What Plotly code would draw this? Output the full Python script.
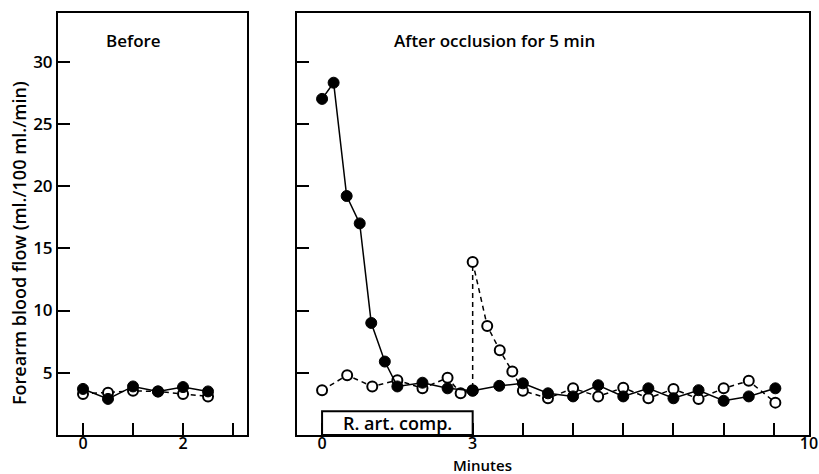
import plotly.graph_objects as go

# ---- data ----
before_x = [0, 0.5, 1.0, 1.5, 2.0, 2.5]
before_filled = [3.7, 2.9, 3.9, 3.5, 3.85, 3.5]
before_open = [3.3, 3.4, 3.55, 3.5, 3.3, 3.1]

after_filled_x = [0, 0.23, 0.49, 0.75, 0.98, 1.25, 1.5, 2.0, 2.5, 3.0, 3.53, 4.0,
                  4.5, 5.0, 5.5, 6.0, 6.5, 7.0, 7.5, 8.0, 8.5, 9.03]
after_filled = [27.0, 28.3, 19.2, 17.0, 9.0, 5.9, 3.9, 4.2, 3.75, 3.55, 3.95, 4.15,
                3.35, 3.1, 4.0, 3.1, 3.75, 2.95, 3.6, 2.75, 3.1, 3.75]

after_open_x = [0, 0.5, 1.0, 1.5, 2.0, 2.5, 2.76, 3.0, 3.0, 3.29, 3.54, 3.79, 4.0,
                4.5, 5.0, 5.5, 6.0, 6.5, 7.0, 7.5, 8.0, 8.5, 9.03]
after_open = [3.6, 4.8, 3.9, 4.4, 3.75, 4.6, 3.35, 3.6, 13.9, 8.76, 6.8, 5.1, 3.55,
              2.95, 3.75, 3.1, 3.8, 2.95, 3.7, 2.9, 3.75, 4.35, 2.6]

y_ticks = [5, 10, 15, 20, 25, 30]
left_xticks = [0, 1, 2, 3]
left_xlabels = ["0", "", "2", ""]
right_xticks = [0, 3, 4, 5, 6, 7, 8, 9, 9.7]
right_xlabels = ["0", "3", "", "", "", "", "", "", "10"]

FONT = "Open Sans"
fig = go.Figure()

def add_series(x, y, xa, ya, filled):
    if filled:
        fig.add_trace(go.Scatter(
            x=x, y=y, xaxis=xa, yaxis=ya, mode="lines+markers",
            line=dict(color="black", width=1.5),
            marker=dict(symbol="circle", size=11, color="black",
                        line=dict(color="black", width=1)),
            showlegend=False, hoverinfo="skip"))
    else:
        fig.add_trace(go.Scatter(
            x=x, y=y, xaxis=xa, yaxis=ya, mode="lines+markers",
            line=dict(color="black", width=1.5, dash="5px,4px"),
            marker=dict(symbol="circle", size=10, color="white",
                        line=dict(color="black", width=2)),
            showlegend=False, hoverinfo="skip"))

add_series(before_x, before_open, "x", "y", False)
add_series(before_x, before_filled, "x", "y", True)
add_series(after_open_x, after_open, "x2", "y2", False)
add_series(after_filled_x, after_filled, "x2", "y2", True)

def tf(size):
    return dict(family=FONT, size=size, color="black", weight=600)

axis_common = dict(showline=True, linecolor="black", linewidth=2, mirror=True,
                   showgrid=False, zeroline=False, ticks="inside", ticklen=12,
                   tickwidth=2, tickcolor="black", automargin=False)

fig.update_layout(
    width=819, height=474,
    margin=dict(l=58, r=10, t=13, b=39),
    paper_bgcolor="white", plot_bgcolor="white",
    xaxis=dict(domain=[0, 0.2517], range=[-0.5, 3.28], tickmode="array",
               tickvals=left_xticks, ticktext=left_xlabels, anchor="y",
               tickfont=tf(16), ticklabelstandoff=-7, **axis_common),
    yaxis=dict(domain=[0, 1], range=[0, 33.9], tickmode="array", tickvals=y_ticks,
               ticktext=[str(v) for v in y_ticks], anchor="x",
               tickfont=tf(17), **axis_common),
    xaxis2=dict(domain=[0.3182, 1], range=[-0.5, 9.7], tickmode="array",
                tickvals=right_xticks, ticktext=right_xlabels, anchor="y2",
                tickfont=tf(16), ticklabelstandoff=-7, **axis_common),
    yaxis2=dict(domain=[0, 1], range=[0, 33.9], tickmode="array", tickvals=y_ticks,
                showticklabels=False, anchor="x2", **axis_common),
)

fig.add_shape(type="rect", xref="x2", yref="y2", x0=0, x1=3, y0=0, y1=1.9,
              fillcolor="white", line=dict(color="black", width=2), layer="above")

fig.add_annotation(x=1.5, y=0.95, xref="x2", yref="y2", text="R. art. comp.",
                   showarrow=False, font=tf(18), xanchor="center", yanchor="middle")

# pixel-positioned labels (converted to paper coords below)
px_labels = [
    ("Before", 133, 40, 0, 17),
    ("After occlusion for 5 min", 494, 40, 0, 17),
    ("Minutes", 482, 465, 0, 15),
    ("Forearm blood flow (ml./100 ml./min)", 19, 243, -90, 18),
]
pw, ph = 819 - 68, 474 - 52
for text, px, py, ang, size in px_labels:
    fig.add_annotation(x=(px - 58) / pw, y=(474 - py - 39) / ph,
                       xref="paper", yref="paper", text=text, textangle=ang,
                       showarrow=False, font=tf(size), xanchor="center",
                       yanchor="middle")

fig.write_html("out.html", config={"displayModeBar": False},
               post_script="document.body.style.margin='0';")
